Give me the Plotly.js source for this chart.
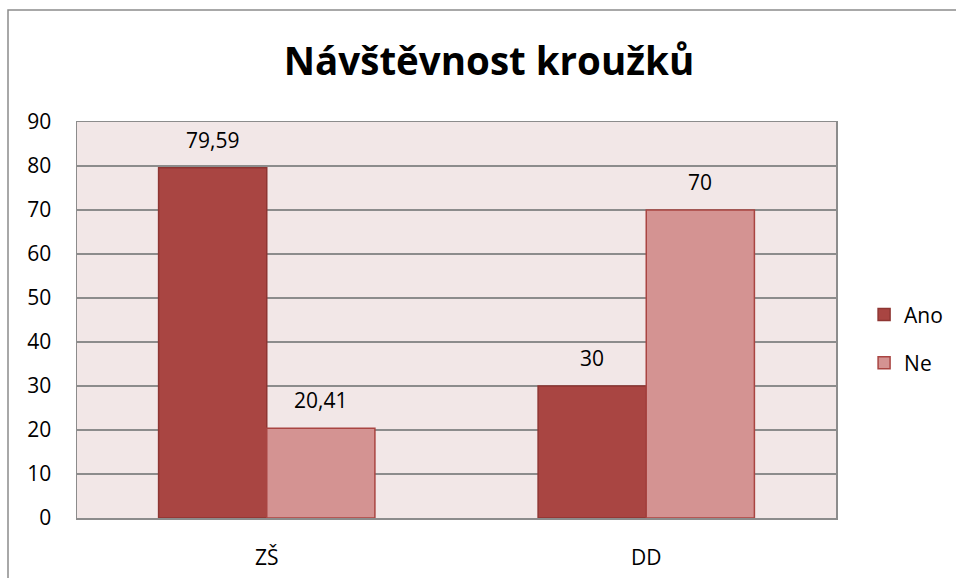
<!DOCTYPE html>
<html><head><meta charset="utf-8">
<script src="https://cdn.plot.ly/plotly-3.0.1.min.js"></script>
<style>html,body{margin:0;padding:0;background:#fff}</style>
</head><body><div id="chart" style="width:956px;height:578px"></div>
<script>
const categories = ["ZŠ", "DD"];
const anoValues = [79.59, 30];
const neValues = [20.41, 70];
const anoLabels = ["79,59", "30"];
const neLabels = ["20,41", "70"];
const yTicks = [0, 10, 20, 30, 40, 50, 60, 70, 80, 90];

const FONT = "Open Sans, DejaVu Sans, sans-serif";
const FS = 21;
const bargap = 0.43;
const barW = (1 - bargap) / 2;

const traces = [
  {type: "bar", name: "Ano", x: categories, y: anoValues, legendgroup: "a",
   marker: {color: "#A94542", line: {color: "#8E3532", width: 1.5}}},
  {type: "bar", name: "Ne", x: categories, y: neValues, legendgroup: "b",
   marker: {color: "#D49392", line: {color: "#A94542", width: 1.5}}}
];

const annotations = [];
categories.forEach((c, i) => {
  annotations.push({x: i - barW / 2, y: anoValues[i], text: anoLabels[i], showarrow: false,
    yshift: 28, xref: "x", yref: "y", font: {family: FONT, size: FS, color: "#000"}});
  annotations.push({x: i + barW / 2, y: neValues[i], text: neLabels[i], showarrow: false,
    yshift: 28, xref: "x", yref: "y", font: {family: FONT, size: FS, color: "#000"}});
});

const layout = {
  width: 956, height: 578,
  margin: {l: 77, r: 120, t: 122, b: 60, autoexpand: false},
  paper_bgcolor: "#ffffff",
  plot_bgcolor: "#F2E7E7",
  separators: ", ",
  barmode: "group", bargap: bargap, bargroupgap: 0,
  font: {family: FONT, size: FS, color: "#000"},
  title: {text: "<b>Návštěvnost kroužků</b>", x: 489 / 956, xref: "container", xanchor: "center",
          y: 1 - 62 / 578, yref: "container", yanchor: "middle",
          font: {family: FONT, size: 38.5, color: "#000"}},
  xaxis: {type: "category", showgrid: false, showline: true, linecolor: "#8c8c8c", linewidth: 1.5,
          mirror: true, ticks: "", ticklabelstandoff: 20, tickfont: {size: FS}, zeroline: false},
  yaxis: {range: [0, 90], tickvals: yTicks, showgrid: true, gridcolor: "#8c8c8c", gridwidth: 1.5,
          showline: true, linecolor: "#8c8c8c", linewidth: 1.5, mirror: true, ticks: "",
          ticklabelstandoff: 20, zeroline: false, tickfont: {size: FS}},
  showlegend: true,
  legend: {x: 1.037, y: 0.565, xanchor: "left", yanchor: "top", bgcolor: "rgba(0,0,0,0)",
           font: {family: FONT, size: FS}, tracegroupgap: 18, itemwidth: 30},
  annotations: annotations,
  shapes: [{type: "rect", xref: "paper", yref: "paper",
            x0: -69 / 759, x1: 1.2, y0: -0.3, y1: (518 - 10) / 396,
            line: {color: "#8c8c8c", width: 1.5}, fillcolor: "rgba(0,0,0,0)", layer: "below"}]
};

Plotly.newPlot("chart", traces, layout, {displayModeBar: false, staticPlot: true});
</script></body></html>
